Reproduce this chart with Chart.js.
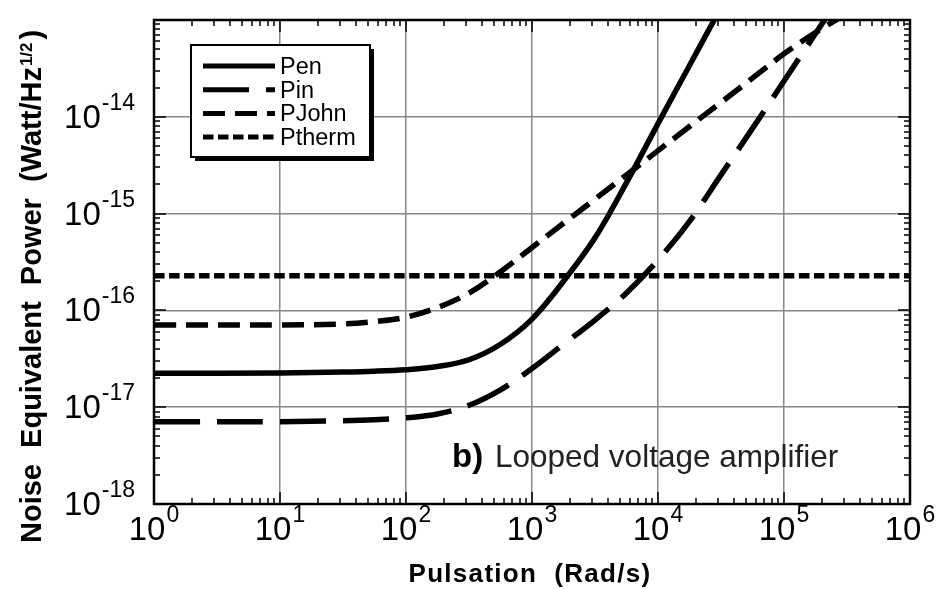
<!DOCTYPE html>
<html lang="en">
<head>
<meta charset="UTF-8">
<title>NEP - looped voltage amplifier</title>
<script src="https://cdn.jsdelivr.net/npm/chart.js"></script>
<style>
  html, body { margin: 0; padding: 0; background: #fff; }
  #nep { display: block; }
</style>
</head>
<body>
<canvas id="nep" width="944" height="590"></canvas>
<script>
// pulsation (rad/s) and NEP (W/Hz^1/2)
const omega = [1, 10, 31.6, 56.2, 100, 177.8, 316.2, 562.3, 1000, 1778, 3162, 5623, 10000, 17783, 31623, 56234, 100000, 177828, 316228];

const penW   = [1, 10, 31.6, 56.2, 100, 177.8, 316.2, 562.3, 1000, 1778, 3162, 5623, 10000, 17783, 31623];
const penNEP = [2.24e-17, 2.26e-17, 2.31e-17, 2.355e-17, 2.443e-17, 2.63e-17, 3.09e-17, 4.47e-17, 8.13e-17, 2.0e-16, 5.62e-16, 2.09e-15, 8.51e-15, 3.39e-14, 1.35e-13];

const pinNEP  = [7.08e-18, 7.08e-18, 7.24e-18, 7.41e-18, 7.76e-18, 8.51e-18, 1.047e-17, 1.514e-17, 2.51e-17, 4.47e-17, 7.94e-17, 1.514e-16, 3.31e-16, 8.32e-16, 2.51e-15, 7.59e-15, 2.34e-14, 7.24e-14, 2.24e-13];
const johnNEP = [7.08e-17, 7.08e-17, 7.24e-17, 7.67e-17, 8.51e-17, 1.07e-16, 1.51e-16, 2.51e-16, 4.47e-16, 7.94e-16, 1.41e-15, 2.51e-15, 4.47e-15, 7.94e-15, 1.41e-14, 2.51e-14, 4.47e-14, 7.41e-14, 1.17e-13];

const thermW   = [1, 1e6];
const thermNEP = [2.28e-16, 2.28e-16];

const seriesNames = ['Pen', 'Pin', 'PJohn', 'Ptherm'];
const xTickExps = [0, 1, 2, 3, 4, 5, 6];
const yTickExps = [-18, -17, -16, -15, -14];
const yMin = 1e-18, yMax = 1e-13;

const xTitle = 'Pulsation  (Rad/s)';
const yTitle = 'Noise  Equivalent  Power  (Watt/Hz';
const yTitleSup = '1/2';
const noteTag = 'b)';
const noteText = 'Looped voltage amplifier';

const FONT = '"Liberation Sans", Arial, Helvetica, sans-serif';

function pts(xs, ys) {
  return xs.map((x, i) => ({ x: x, y: ys[i] }));
}

function line(label, xs, ys, dash) {
  return {
    label: label,
    data: pts(xs, ys),
    borderColor: '#000',
    borderWidth: 5.5,
    borderDash: dash,
    pointRadius: 0,
    tension: 0.35,
    fill: false
  };
}

// "10" with a raised exponent
function drawPow(ctx, exp, px, baseY, align) {
  const big = '33px ' + FONT, small = '23px ' + FONT;
  const sup = String(exp);
  ctx.font = big;
  const wb = ctx.measureText('10').width;
  ctx.font = small;
  const ws = ctx.measureText(sup).width;
  const left = align === 'center' ? px - (wb + ws + 1) / 2 : px - (wb + ws + 1);
  ctx.font = big;
  ctx.fillText('10', left, baseY);
  ctx.font = small;
  ctx.fillText(sup, left + wb + 1, baseY - 18);
}

const framePlugin = {
  id: 'frame',
  afterDatasetsDraw(chart) {
    const { ctx, chartArea: a, scales } = chart;
    const x = scales.x, y = scales.y;
    const yLo = Math.round(Math.log10(yMin)), yHi = Math.round(Math.log10(yMax));
    ctx.save();
    ctx.strokeStyle = '#000';
    ctx.lineWidth = 1.5;
    ctx.beginPath();
    for (let e = xTickExps[0]; e < xTickExps[xTickExps.length - 1]; e++) {
      for (let k = 1; k < 10; k++) {
        const px = Math.round(x.getPixelForValue(k * Math.pow(10, e)));
        const len = k === 1 ? 12 : 6;
        ctx.moveTo(px, a.bottom); ctx.lineTo(px, a.bottom - len);
        ctx.moveTo(px, a.top); ctx.lineTo(px, a.top + len);
      }
    }
    for (let e = yLo; e < yHi; e++) {
      for (let k = 1; k < 10; k++) {
        const py = Math.round(y.getPixelForValue(k * Math.pow(10, e)));
        const len = k === 1 ? 12 : 6;
        ctx.moveTo(a.left, py); ctx.lineTo(a.left + len, py);
        ctx.moveTo(a.right, py); ctx.lineTo(a.right - len, py);
      }
    }
    ctx.stroke();
    ctx.lineWidth = 2.5;
    ctx.strokeRect(a.left, a.top, a.right - a.left, a.bottom - a.top);
    ctx.restore();
  },
  afterDraw(chart) {
    const { ctx, chartArea: a, scales } = chart;
    const x = scales.x, y = scales.y;
    ctx.save();
    ctx.fillStyle = '#000';
    ctx.textAlign = 'left';
    ctx.textBaseline = 'alphabetic';

    // tick labels
    xTickExps.forEach(e => drawPow(ctx, e, x.getPixelForValue(Math.pow(10, e)), a.bottom + 36, 'center'));
    yTickExps.forEach(e => drawPow(ctx, e, a.left - 19, y.getPixelForValue(Math.pow(10, e)) + 11, 'right'));

    // x title
    ctx.font = 'bold 26px ' + FONT;
    ctx.letterSpacing = '1.3px';
    const wx = ctx.measureText(xTitle).width;
    ctx.fillText(xTitle, 530 - wx / 2, 582);
    ctx.letterSpacing = '0px';

    // y title, rotated
    ctx.save();
    ctx.translate(41, 543);
    ctx.rotate(-Math.PI / 2);
    ctx.font = 'bold 29px ' + FONT;
    const w1 = ctx.measureText(yTitle).width;
    ctx.fillText(yTitle, 0, 0);
    ctx.font = 'bold 17px ' + FONT;
    const w2 = ctx.measureText(yTitleSup).width;
    ctx.fillText(yTitleSup, w1 + 1, -9);
    ctx.font = 'bold 29px ' + FONT;
    ctx.fillText(')', w1 + w2 + 4, 0);
    ctx.restore();

    // annotation
    ctx.font = 'bold 33px ' + FONT;
    ctx.fillText(noteTag, 452, 467);
    ctx.fillStyle = '#222';
    ctx.font = '31.5px ' + FONT;
    ctx.fillText(noteText, 495, 467);

    // legend box with drop shadow
    const lx = 191, ly = 45, lw = 179, lh = 112;
    ctx.fillStyle = '#000';
    ctx.fillRect(lx + 4, ly + 4, lw, lh);
    ctx.fillStyle = '#fff';
    ctx.fillRect(lx, ly, lw, lh);
    ctx.strokeStyle = '#000';
    ctx.lineWidth = 2;
    ctx.strokeRect(lx, ly, lw, lh);
    ctx.font = '23.5px ' + FONT;
    ctx.fillStyle = '#000';
    chart.data.datasets.forEach((ds, i) => {
      const cy = 66 + i * 23.7;
      ctx.setLineDash(ds.borderDash || []);
      ctx.lineWidth = 5;
      ctx.beginPath();
      ctx.moveTo(203, cy);
      ctx.lineTo(275, cy);
      ctx.stroke();
      ctx.setLineDash([]);
      ctx.fillText(ds.label, 280, cy + 8);
    });
    ctx.restore();
  }
};

function logAxis(min, max, exps) {
  return {
    type: 'logarithmic',
    min: min,
    max: max,
    afterBuildTicks: s => { s.ticks = exps.map(e => ({ value: Math.pow(10, e) })); },
    ticks: { display: false },
    grid: { color: '#888', lineWidth: 1.5, drawTicks: false },
    border: { display: false }
  };
}

new Chart(document.getElementById('nep'), {
  type: 'line',
  data: {
    datasets: [
      line(seriesNames[0], penW, penNEP, []),
      line(seriesNames[1], omega, pinNEP, [46, 17]),
      line(seriesNames[2], omega, johnNEP, [22, 10]),
      line(seriesNames[3], thermW, thermNEP, [10.5, 4.5])
    ]
  },
  options: {
    responsive: false,
    animation: false,
    devicePixelRatio: 1,
    layout: { padding: { left: 154, right: 34, top: 20, bottom: 86 } },
    plugins: { legend: { display: false }, tooltip: { enabled: false } },
    elements: { line: { borderCapStyle: 'butt', borderJoinStyle: 'round' } },
    scales: {
      x: logAxis(1, 1e6, xTickExps),
      y: logAxis(yMin, yMax, yTickExps)
    }
  },
  plugins: [framePlugin]
});
</script>
</body>
</html>
